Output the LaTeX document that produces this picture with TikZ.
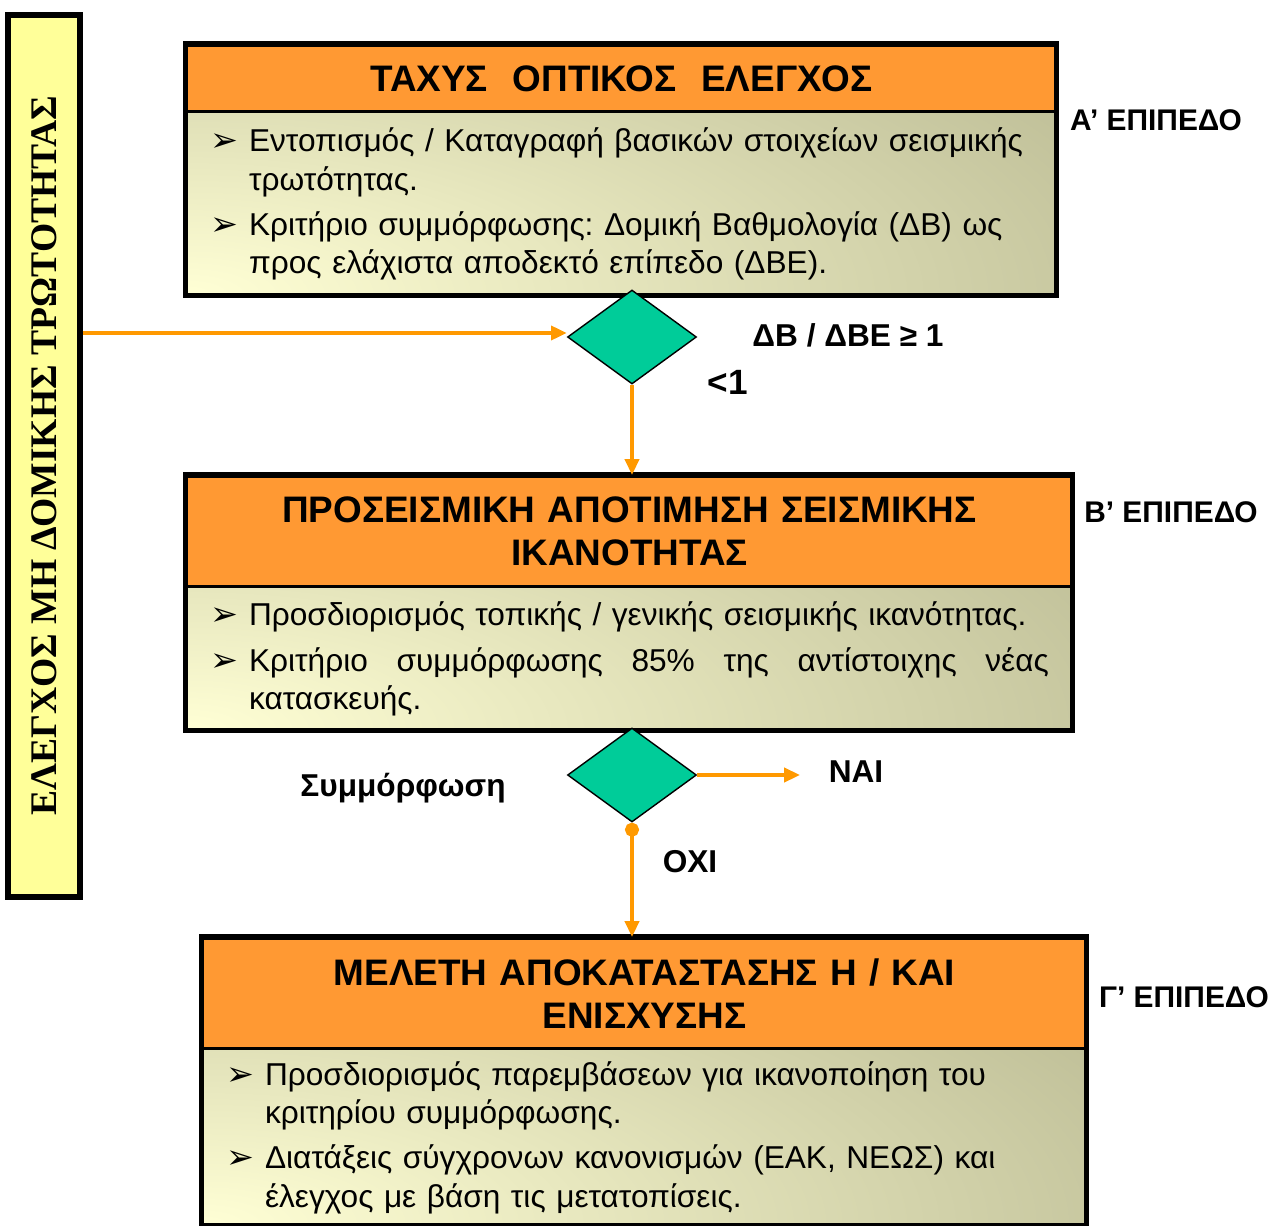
\documentclass[tikz,border=0pt]{standalone}
\usepackage{fontspec}
\setmainfont{Liberation Sans}
\newfontfamily\sidefont{Liberation Serif}
\newfontfamily\dingfont{DejaVu Sans}
\usepackage{tikz}
\usetikzlibrary{shapes.geometric,arrows.meta,positioning}
\frenchspacing

\definecolor{headorange}{RGB}{255,153,51}
\definecolor{floworange}{RGB}{255,153,0}
\definecolor{decisiongreen}{RGB}{0,204,153}
\definecolor{sideyellow}{RGB}{255,255,153}
\definecolor{bodyolive}{RGB}{187,187,148}
\definecolor{bodypale}{RGB}{255,255,213}

\newlength{\bulw}\setlength{\bulw}{0.78cm}
\newcommand{\bitem}[1]{\hangindent=\bulw\hangafter=1\noindent
  \makebox[\bulw][l]{\dingfont\fontsize{19}{19}\selectfont ➢}{\let\\\newline #1}\par}

\begin{document}
\begin{tikzpicture}[x=0.02cm, y=-0.02cm,
    head/.style = {rectangle, draw, line width=1.6pt, fill=headorange, anchor=north,
                   inner sep=0pt, align=center, minimum height=2.2cm,
                   font=\bfseries\fontsize{21}{24.4}\selectfont},
    body/.style = {rectangle, inner sep=0pt, align=left, minimum width=#1, fill=bodyolive,
                   text width=#1-0.92cm, font=\fontsize{18}{21.8}\selectfont,
                   path picture={\shade[inner color=bodypale, outer color=bodyolive]
                     (path picture bounding box.south west) ellipse [x radius=22cm, y radius=8cm];}},
    frame/.style = {draw, line width=3pt},
    decision/.style = {diamond, draw, line width=0.8pt, fill=decisiongreen, inner sep=0pt,
                       minimum width=2.58cm, minimum height=1.88cm},
    flow/.style = {draw=floworange, line width=2pt, -{Triangle[length=9pt,width=8pt]}},
    level/.style = {font=\bfseries\fontsize{17}{19}\selectfont},
    answer/.style = {font=\bfseries\fontsize{18}{20}\selectfont}]
  \useasboundingbox (0,0) rectangle (1270,1226);

  % side bar
  \node[rectangle, draw, line width=3pt, fill=sideyellow, minimum width=1.44cm,
        minimum height=17.64cm, inner sep=0pt] (side) at (44,456)
        {\rotatebox{90}{\sidefont\bfseries\fontsize{21.4}{23}\selectfont ΕΛΕΓΧΟΣ ΜΗ ΔΟΜΙΚΗΣ ΤΡΩΤΟΤΗΤΑΣ}};

  % level A
  \node[head, minimum width=17.38cm, text width=16.4cm, minimum height=1.32cm] (headA) at (621.5,44)
       {ΤΑΧΥΣ\ \ ΟΠΤΙΚΟΣ\ \ ΕΛΕΓΧΟΣ};
  \node[body=17.38cm, minimum height=3.64cm, below=0pt of headA] (bodyA)
       {\bitem{Εντοπισμός / Καταγραφή βασικών στοιχείων σεισμικής\\τρωτότητας.}\vspace{4pt}
        \bitem{Κριτήριο συμμόρφωσης: Δομική Βαθμολογία (ΔΒ) ως\\προς ελάχιστα αποδεκτό επίπεδο (ΔΒΕ).}};
  \draw[frame] (headA.north west) rectangle (bodyA.south east);
  \node[level] (lvlA) at (1156,120) {Α’ ΕΠΙΠΕΔΟ};

  % level B
  \node[head, minimum width=17.7cm, text width=16.7cm] (headB) at (629.5,475)
       {ΠΡΟΣΕΙΣΜΙΚΗ ΑΠΟΤΙΜΗΣΗ ΣΕΙΣΜΙΚΗΣ\\ΙΚΑΝΟΤΗΤΑΣ};
  \node[body=17.7cm, minimum height=2.84cm, below=0pt of headB] (bodyB)
       {\bitem{Προσδιορισμός τοπικής / γενικής σεισμικής ικανότητας.}\vspace{4pt}
        \bitem{\hbox to 16cm{Κριτήριο\hfill συμμόρφωσης\hfill 85\%\hfill της\hfill αντίστοιχης\hfill νέας}\\κατασκευής.}};
  \draw[frame] (headB.north west) rectangle (bodyB.south east);
  \node[level] (lvlB) at (1171,512) {Β’ ΕΠΙΠΕΔΟ};

  % level C
  \node[head, minimum width=17.66cm, text width=16.7cm] (headC) at (644.5,937)
       {ΜΕΛΕΤΗ ΑΠΟΚΑΤΑΣΤΑΣΗΣ Η / ΚΑΙ\\ΕΝΙΣΧΥΣΗΣ};
  \node[body=17.66cm, minimum height=3.5cm, below=0pt of headC] (bodyC)
       {\bitem{Προσδιορισμός παρεμβάσεων για ικανοποίηση του\\κριτηρίου συμμόρφωσης.}\vspace{4pt}
        \bitem{Διατάξεις σύγχρονων κανονισμών (ΕΑΚ, ΝΕΩΣ) και\\έλεγχος με βάση τις μετατοπίσεις.}};
  \draw[frame] (headC.north west) rectangle (bodyC.south east);
  \node[level] (lvlC) at (1184,997) {Γ’ ΕΠΙΠΕΔΟ};

  % decisions
  \node[decision] (dA) at (632,337) {};
  \node[decision] (dB) at (632,775) {};
  \node[answer] (ratio) at (848,335) {ΔΒ / ΔΒΕ ≥ 1};
  \node[font=\bfseries\fontsize{20}{22}\selectfont] (less) at (728,382) {<1};
  \node[answer] (comply) at (403,788) {Συμμόρφωση};
  \node[answer] (yes) at (856,772) {ΝΑΙ};
  \node[answer] (no) at (690,862) {ΟΧΙ};
  \coordinate (yesend) at (800,775);

  \draw[flow] (side.east |- 0,333) -- (dA.west |- 0,333);
  \draw[flow] (dA.south) -- (dA.south |- headB.north);
  \draw[flow] (dB.east) -- (yesend);
  \draw[flow, {Circle[length=8pt]}-{Triangle[length=9pt,width=8pt]}] (dB.south) -- (dB.south |- headC.north);
\end{tikzpicture}
\end{document}
